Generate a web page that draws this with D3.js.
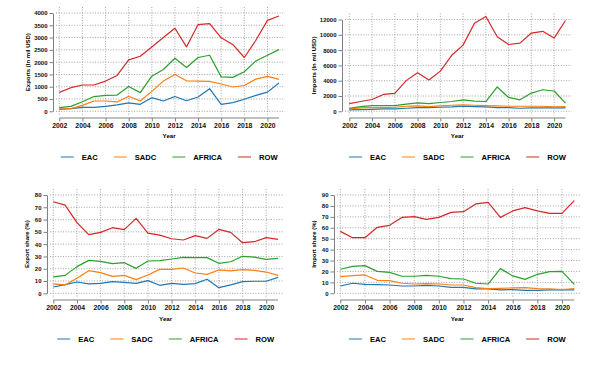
<!DOCTYPE html>
<html lang="en">
<head>
<meta charset="utf-8">
<title>Trade panels</title>
<script src="https://d3js.org/d3.v7.min.js"></script>
<style>
  body { margin: 0; background: #fff; }
  svg { font-family: "Liberation Sans", Arial, sans-serif; font-weight: bold; }
  .grid line { stroke: #9a9a9a; stroke-width: 0.9; stroke-dasharray: 1, 1.6; }
  .axis line, .axis path { stroke: #808080; stroke-width: 1; }
</style>
</head>
<body>
<script>
// data
const years = d3.range(2002, 2022);
const regions = ["EAC", "SADC", "AFRICA", "ROW"];
const colors = ["#1f77b4", "#ff7f0e", "#2ca02c", "#d62728"];

const exportsEAC    = [80, 110, 160, 160, 200, 260, 340, 285, 555, 420, 600, 430, 580, 920, 285, 350, 490, 650, 780, 1150];
const exportsSADC   = [95, 110, 240, 420, 420, 380, 610, 420, 810, 1230, 1500, 1240, 1230, 1220, 1110, 990, 1050, 1310, 1420, 1300];
const exportsAFRICA = [150, 200, 390, 600, 650, 660, 1010, 760, 1430, 1700, 2160, 1780, 2190, 2280, 1400, 1380, 1610, 2050, 2280, 2510];
const exportsROW    = [770, 960, 1070, 1070, 1230, 1460, 2095, 2240, 2620, 3000, 3380, 2620, 3530, 3570, 2990, 2720, 2190, 2890, 3700, 3880];

const importsEAC    = [180, 220, 260, 310, 310, 400, 490, 490, 530, 570, 660, 620, 570, 490, 490, 400, 440, 440, 440, 440];
const importsSADC   = [310, 440, 490, 490, 530, 660, 700, 620, 700, 790, 840, 790, 750, 700, 660, 660, 660, 660, 570, 620];
const importsAFRICA = [400, 620, 750, 750, 750, 930, 1100, 1010, 1150, 1280, 1500, 1320, 1280, 3180, 1810, 1500, 2380, 2820, 2650, 1060];
const importsROW    = [1010, 1280, 1540, 2200, 2340, 4010, 5030, 4100, 5250, 7320, 8650, 11510, 12400, 9750, 8735, 8910, 10230, 10450, 9570, 11870];

const expShareEAC    = [5.1, 7.0, 9.2, 7.6, 8.1, 9.5, 8.9, 8.1, 10.3, 6.5, 8.1, 7.3, 7.9, 11.4, 4.6, 6.8, 9.5, 9.8, 9.8, 13.0];
const expShareSADC   = [7.6, 6.8, 12.2, 18.4, 16.8, 13.8, 14.6, 11.1, 14.9, 19.5, 19.5, 20.6, 16.5, 15.4, 19.0, 18.2, 19.2, 18.7, 17.3, 14.6];
const expShareAFRICA = [13.3, 14.6, 21.7, 26.8, 26.0, 24.1, 24.9, 20.3, 26.3, 26.6, 27.9, 29.3, 29.0, 29.0, 24.4, 25.7, 30.1, 29.5, 27.6, 28.5];
const expShareROW    = [74.5, 71.8, 57.5, 47.7, 49.6, 53.4, 51.8, 61.0, 49.0, 47.4, 44.4, 43.4, 46.9, 44.7, 52.0, 49.6, 41.2, 42.0, 45.3, 43.9];

const impShareEAC    = [6.7, 9.2, 8.2, 7.9, 7.6, 6.7, 6.7, 7.3, 6.7, 5.5, 5.5, 4.0, 4.0, 3.1, 3.4, 2.7, 2.7, 3.1, 3.1, 3.1];
const impShareSADC   = [15.3, 16.2, 16.8, 11.9, 11.6, 9.2, 8.5, 8.8, 8.5, 7.6, 7.6, 5.2, 4.3, 4.6, 4.9, 5.2, 4.3, 4.0, 3.4, 4.3];
const impShareAFRICA = [22.0, 24.7, 25.3, 20.1, 19.2, 15.6, 15.6, 16.5, 15.6, 13.4, 13.1, 9.2, 8.5, 22.6, 15.9, 12.8, 17.4, 19.8, 20.1, 8.2];
const impShareROW    = [56.7, 50.9, 50.9, 60.4, 62.2, 69.5, 70.2, 67.7, 69.5, 74.1, 74.7, 81.8, 83.3, 69.5, 75.4, 78.4, 75.4, 73.2, 73.2, 84.8];

const xTicks = d3.range(2002, 2021, 2);
const exportTicks = d3.range(0, 4001, 500);
const importTicks = d3.range(0, 12001, 2000);
const expShareTicks = d3.range(0, 81, 10);
const impShareTicks = d3.range(0, 91, 10);

const panels = [
  { title: "Exports (In mil USD)", series: [exportsEAC, exportsSADC, exportsAFRICA, exportsROW], ticks: exportTicks,
    x0: 59.3, x1: 279, yTop: 13, y0: 111.3, axisX: 53, axisY: 118, ylabX: 28, yearY: 138, legendY: 157 },
  { title: "Imports (In mil USD)", series: [importsEAC, importsSADC, importsAFRICA, importsROW], ticks: importTicks,
    x0: 349.3, x1: 565.5, yTop: 19.5, y0: 111.3, axisX: 342, axisY: 118, ylabX: 314, yearY: 138, legendY: 157 },
  { title: "Export share (%)", series: [expShareEAC, expShareSADC, expShareAFRICA, expShareROW], ticks: expShareTicks,
    x0: 53.3, x1: 278, yTop: 195, y0: 293.3, axisX: 47, axisY: 300, ylabX: 27, yearY: 321, legendY: 339 },
  { title: "Import share (%)", series: [impShareEAC, impShareSADC, impShareAFRICA, impShareROW], ticks: impShareTicks,
    x0: 340.3, x1: 574.3, yTop: 195, y0: 293.3, axisX: 334, axisY: 300, ylabX: 314, yearY: 321, legendY: 339 }
];

const svg = d3.select("body").append("svg")
  .attr("width", 591)
  .attr("height", 369);

panels.forEach(p => {
  const g = svg.append("g");
  const x = d3.scaleLinear().domain([2002, 2021]).range([p.x0, p.x1]);
  const y = d3.scaleLinear().domain([0, d3.max(p.ticks)]).range([p.y0, p.yTop]);

  // dotted grid
  const grid = g.append("g").attr("class", "grid");
  grid.selectAll(".v").data(xTicks).enter().append("line")
    .attr("x1", d => x(d)).attr("x2", d => x(d))
    .attr("y1", p.yTop - 6).attr("y2", p.y0 + 4);
  grid.selectAll(".h").data(p.ticks).enter().append("line")
    .attr("x1", p.axisX + 3).attr("x2", p.x1 + 6)
    .attr("y1", d => y(d)).attr("y2", d => y(d));

  // axes, detached from the plot like R
  const yAxis = g.append("g").attr("class", "axis")
    .attr("transform", `translate(${p.axisX},0)`)
    .call(d3.axisLeft(y).tickValues(p.ticks).tickFormat(d3.format("d")).tickSize(3.5).tickSizeOuter(0).tickPadding(2));
  yAxis.selectAll("text").style("font-size", "6px").attr("fill", "#111");

  const xAxis = g.append("g").attr("class", "axis")
    .attr("transform", `translate(0,${p.axisY})`)
    .call(d3.axisBottom(x).tickValues(xTicks).tickFormat(d3.format("d")).tickSize(3.5).tickSizeOuter(0).tickPadding(2));
  xAxis.select(".domain").attr("d", `M${p.x0},0H${p.x1}`);
  xAxis.selectAll("text").style("font-size", "6.8px").attr("fill", "#111");

  // lines
  const line = d3.line().x((d, i) => x(years[i])).y(d => y(d));
  p.series.forEach((s, k) => {
    g.append("path")
      .datum(s)
      .attr("d", line)
      .attr("fill", "none")
      .attr("stroke", colors[k])
      .attr("stroke-width", 1.2)
      .attr("stroke-linejoin", "round");
  });

  // titles
  g.append("text")
    .attr("transform", `translate(${p.ylabX},${(p.yTop + p.y0) / 2}) rotate(-90)`)
    .attr("text-anchor", "middle")
    .attr("dominant-baseline", "central")
    .style("font-size", "6px")
    .text(p.title);
  g.append("text")
    .attr("x", (p.x0 + p.x1) / 2).attr("y", p.yearY)
    .attr("text-anchor", "middle")
    .style("font-size", "6.2px")
    .text("Year");

  // legend, centred under the plot
  const leg = g.append("g");
  let cx = 0;
  regions.forEach((r, k) => {
    leg.append("line")
      .attr("x1", cx).attr("x2", cx + 13)
      .attr("y1", 0).attr("y2", 0)
      .attr("stroke", colors[k]).attr("stroke-width", 2).attr("stroke-opacity", 0.5);
    const t = leg.append("text")
      .attr("x", cx + 21).attr("y", 0)
      .attr("dominant-baseline", "central")
      .style("font-size", "7.6px")
      .text(r);
    cx += 21 + t.node().getComputedTextLength() + 16;
  });
  const w = cx - 16;
  leg.attr("transform", `translate(${(p.x0 + p.x1) / 2 - w / 2},${p.legendY})`);
});
</script>
</body>
</html>
